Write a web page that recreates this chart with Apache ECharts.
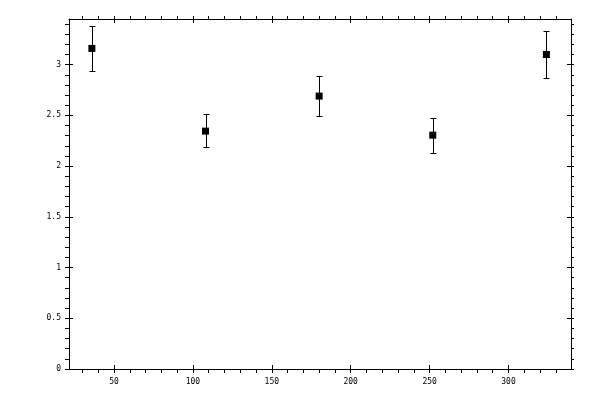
<!DOCTYPE html>
<html>
<head>
<meta charset="utf-8">
<script src="https://cdn.jsdelivr.net/npm/echarts@6/dist/echarts.min.js"></script>
<style>
  html, body { margin: 0; padding: 0; background: #fff; }
  #chart { width: 600px; height: 400px; }
</style>
</head>
<body>
<div id="chart"></div>
<script>
// data
var xVals = [36, 108, 180, 252, 324];
var yVals = [3.16, 2.345, 2.69, 2.305, 3.10];
var yLow  = [2.94, 2.19, 2.49, 2.13, 2.87];
var yHigh = [3.38, 2.51, 2.89, 2.47, 3.33];

// axes
var xMin = 21.5, xMax = 339.6;
var yMin = 0, yMax = 3.45;
var xMajor = [50, 100, 150, 200, 250, 300];
var yMajor = [0, 0.5, 1, 1.5, 2, 2.5, 3];

function range(a, b, step) {
  var out = [];
  for (var v = a; v <= b + 1e-9; v += step) out.push(Math.round(v * 100) / 100);
  return out;
}
var xMinor = range(30, 330, 10);
var yMinor = range(0, 3.4, 0.1);

var font = { fontFamily: 'DejaVu Sans Mono', fontSize: 8, color: '#000' };

function xAxisDef(pos, ticks, inside, len, labels, line) {
  return {
    type: 'value', position: pos, min: xMin, max: xMax,
    axisLine: { show: line, onZero: false, lineStyle: { color: '#000', width: 1 } },
    axisTick: { show: true, inside: inside, length: len, customValues: ticks,
                lineStyle: { color: '#000', width: 1 } },
    axisLabel: labels ? Object.assign({ show: true, margin: 9, customValues: xMajor }, font) : { show: false },
    splitLine: { show: false }
  };
}
function yAxisDef(pos, ticks, inside, len, labels, line) {
  return {
    type: 'value', position: pos, min: yMin, max: yMax,
    axisLine: { show: line, onZero: false, lineStyle: { color: '#000', width: 1 } },
    axisTick: { show: true, inside: inside, length: len, customValues: ticks,
                lineStyle: { color: '#000', width: 1 } },
    axisLabel: labels ? Object.assign({ show: true, margin: 8, customValues: yMajor }, font) : { show: false },
    splitLine: { show: false }
  };
}

var chart = echarts.init(document.getElementById('chart'));
chart.setOption({
  animation: false,
  backgroundColor: '#fff',
  grid: { left: 69, right: 29, top: 19, bottom: 31 },
  xAxis: [
    xAxisDef('bottom', xMinor.concat(xMajor), false, 4, true, true),
    xAxisDef('bottom', xMajor, true, 4, false, false),
    xAxisDef('top', xMinor.concat(xMajor), false, 3, false, true),
    xAxisDef('top', xMajor, true, 4, false, false)
  ],
  yAxis: [
    yAxisDef('left', yMinor, false, 4, true, true),
    yAxisDef('left', yMajor, true, 4, false, false),
    yAxisDef('right', yMinor, false, 3, false, true),
    yAxisDef('right', yMajor, true, 4, false, false)
  ],
  series: [
    {
      type: 'custom',
      xAxisIndex: 0, yAxisIndex: 0,
      data: xVals.map(function (x, i) { return [x, yLow[i], yHigh[i]]; }),
      renderItem: function (params, api) {
        var lo = api.coord([api.value(0), api.value(1)]);
        var hi = api.coord([api.value(0), api.value(2)]);
        var cx = Math.round(lo[0]) + 0.5;
        var y1 = Math.round(hi[1]) + 0.5, y2 = Math.round(lo[1]) + 0.5;
        var st = { stroke: '#000', lineWidth: 1 };
        return {
          type: 'group',
          children: [
            { type: 'line', shape: { x1: cx, y1: y1, x2: cx, y2: y2 }, style: st },
            { type: 'line', shape: { x1: cx - 3, y1: y1, x2: cx + 3, y2: y1 }, style: st },
            { type: 'line', shape: { x1: cx - 3, y1: y2, x2: cx + 3, y2: y2 }, style: st }
          ]
        };
      },
      z: 2
    },
    {
      type: 'scatter',
      xAxisIndex: 0, yAxisIndex: 0,
      symbol: 'rect', symbolSize: 7,
      itemStyle: { color: '#000', opacity: 1 },
      data: xVals.map(function (x, i) { return [x, yVals[i]]; }),
      z: 3
    }
  ]
});
</script>
</body>
</html>
